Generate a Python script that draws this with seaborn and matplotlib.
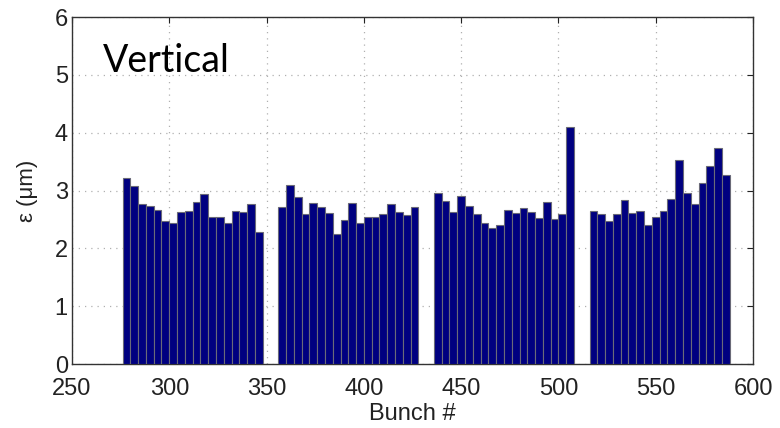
import numpy as np
import pandas as pd
import matplotlib
matplotlib.use("Agg")
import matplotlib.pyplot as plt
import seaborn as sns

# bunch numbers of the four trains (every 4th bucket)
train1 = list(range(278, 350, 4))
train2 = list(range(358, 430, 4))
train3 = list(range(438, 510, 4))
train4 = list(range(518, 590, 4))

# vertical emittance (um)
eps1 = [3.21, 3.07, 2.76, 2.74, 2.66, 2.48, 2.44, 2.63, 2.64,
        2.81, 2.94, 2.55, 2.55, 2.43, 2.64, 2.63, 2.77, 2.28]
eps2 = [2.72, 3.10, 2.88, 2.59, 2.79, 2.72, 2.61, 2.24, 2.49,
        2.79, 2.43, 2.54, 2.55, 2.60, 2.76, 2.63, 2.57, 2.72]
eps3 = [2.96, 2.82, 2.63, 2.91, 2.73, 2.60, 2.43, 2.36, 2.40,
        2.67, 2.61, 2.70, 2.63, 2.53, 2.80, 2.51, 2.60, 4.09]
eps4 = [2.65, 2.60, 2.47, 2.60, 2.83, 2.61, 2.65, 2.41, 2.54,
        2.64, 2.86, 3.52, 2.96, 2.76, 3.13, 3.43, 3.74, 3.26]

xticks = [250, 300, 350, 400, 450, 500, 550, 600]
yticks = [0, 1, 2, 3, 4, 5, 6]

df = pd.DataFrame({
    "bunch": train1 + train2 + train3 + train4,
    "eps": eps1 + eps2 + eps3 + eps4,
})

sns.set_style("white")
plt.rcParams["font.family"] = ["Liberation Sans", "DejaVu Sans"]

fig = plt.figure(figsize=(7.8, 4.28), dpi=100)
ax = fig.add_axes([0.0923, 0.1495, 0.8731, 0.8107])

sns.barplot(data=df, x="bunch", y="eps", native_scale=True, width=1.0,
            color="#000080", saturation=1, edgecolor="#6a6a78",
            linewidth=0.8, errorbar=None, ax=ax, zorder=3)

ax.set_xlim(250, 600)
ax.set_ylim(0, 6)
ax.set_xticks(xticks)
ax.set_yticks(yticks)
ax.set_xticklabels([str(t) for t in xticks])
ax.set_yticklabels([str(t) for t in yticks])
ax.tick_params(direction="in", top=True, right=True, length=4, width=0.8,
               labelsize=17, colors="#222222", pad=3)
ax.tick_params(axis="x", pad=10)

ax.grid(True, linestyle=(0, (1, 4)), color="#b0b0b0", linewidth=0.9, zorder=0)
ax.set_axisbelow(True)
for s in ax.spines.values():
    s.set_color("#333333")
    s.set_linewidth(1.0)
    s.set_visible(True)

ax.set_xlabel("Bunch #", fontsize=17, color="#222222", labelpad=2)
ax.set_ylabel("ε (μm)", fontsize=16, color="#222222", labelpad=12)

ax.text(0.0455, 0.841, "Vertical", transform=ax.transAxes,
        fontsize=27, family=["Lato", "DejaVu Sans"], va="baseline",
        ha="left", color="black")

fig.savefig("out.png", dpi=100)
